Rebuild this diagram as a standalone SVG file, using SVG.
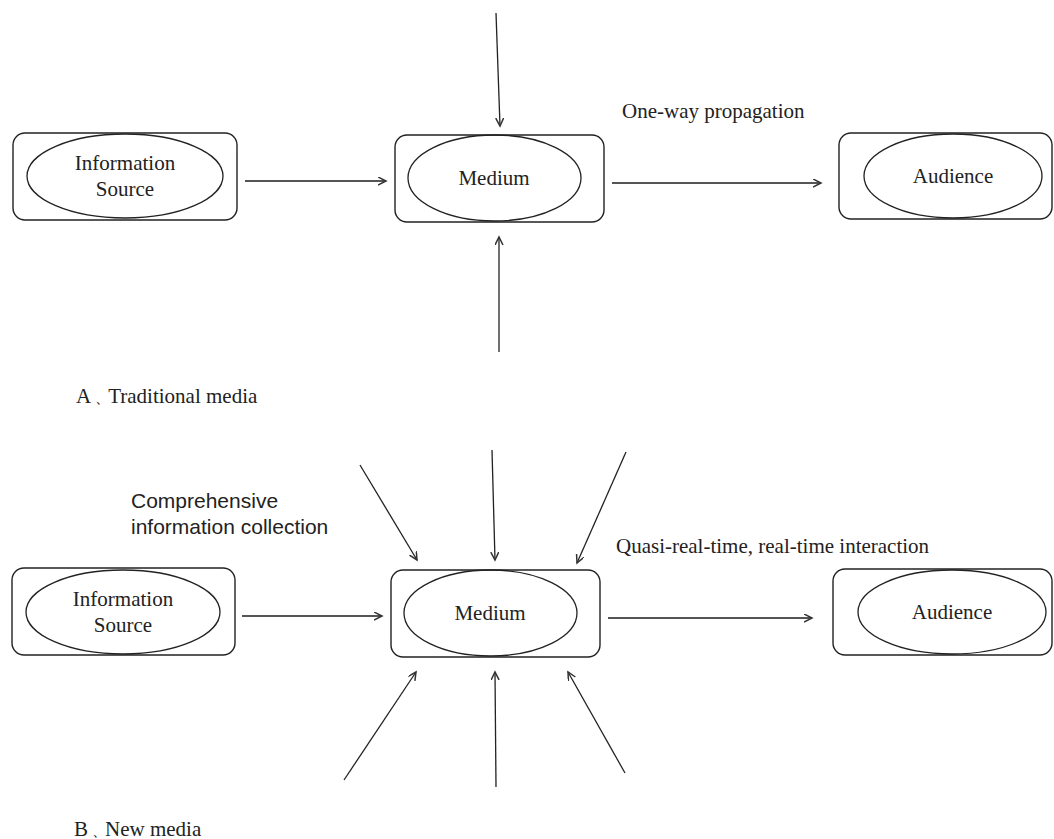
<svg xmlns="http://www.w3.org/2000/svg" width="1054" height="839" viewBox="0 0 1054 839">
<style>
.box{fill:none;stroke:#222;stroke-width:1.4}
.ell{fill:none;stroke:#222;stroke-width:1.3}
.t{font-family:"Liberation Serif",serif;font-size:21px;fill:#222}
.s{font-family:"Liberation Sans",sans-serif;font-size:21px;fill:#222}
.h{stroke:#555;stroke-width:2;fill:none}
.v{stroke:#222;stroke-width:1.3;fill:none}
</style>
<defs>
<marker id="ah" markerWidth="10" markerHeight="10" refX="8" refY="4" orient="auto" markerUnits="userSpaceOnUse">
<path d="M0,0 L8,4 L0,8" fill="none" stroke="#333" stroke-width="1.5"/>
</marker>
</defs>
<rect width="1054" height="839" fill="#fff"/>
<g id="src1"><rect class="box" x="13" y="133" width="224" height="87" rx="12"/><ellipse class="ell" cx="125" cy="176" rx="98" ry="42"/><text class="t" text-anchor="middle" x="125" y="170">Information</text><text class="t" text-anchor="middle" x="125" y="196">Source</text></g>
<g id="med1"><rect class="box" x="395" y="135" width="209" height="87" rx="12"/><ellipse class="ell" cx="494.5" cy="178" rx="86.5" ry="43"/><text class="t" text-anchor="middle" x="494" y="185">Medium</text></g>
<g id="aud1"><rect class="box" x="839" y="133" width="213" height="86" rx="12"/><ellipse class="ell" cx="953" cy="176" rx="89" ry="42"/><text class="t" text-anchor="middle" x="953" y="183">Audience</text></g>
<g id="src2"><rect class="box" x="12" y="568" width="223" height="87" rx="12"/><ellipse class="ell" cx="123" cy="612" rx="97" ry="42"/><text class="t" text-anchor="middle" x="123" y="606">Information</text><text class="t" text-anchor="middle" x="123" y="632">Source</text></g>
<g id="med2"><rect class="box" x="391" y="570" width="209" height="87" rx="12"/><ellipse class="ell" cx="490.5" cy="613" rx="86.5" ry="43"/><text class="t" text-anchor="middle" x="490" y="620">Medium</text></g>
<g id="aud2"><rect class="box" x="833" y="569" width="219" height="86" rx="12"/><ellipse class="ell" cx="952" cy="612" rx="94" ry="42"/><text class="t" text-anchor="middle" x="952" y="619">Audience</text></g>
<g id="connectors">
<line class="h" x1="245" y1="181" x2="386" y2="181" marker-end="url(#ah)"/>
<line class="h" x1="612" y1="183" x2="821" y2="183" marker-end="url(#ah)"/>
<line class="v" x1="496" y1="13" x2="500" y2="126" marker-end="url(#ah)"/>
<line class="v" x1="499" y1="352" x2="499" y2="237" marker-end="url(#ah)"/>
<line class="h" x1="242" y1="616" x2="382" y2="616" marker-end="url(#ah)"/>
<line class="h" x1="608" y1="618" x2="812" y2="618" marker-end="url(#ah)"/>
<line class="v" x1="360" y1="465" x2="417" y2="560" marker-end="url(#ah)"/>
<line class="v" x1="492" y1="450" x2="495" y2="560" marker-end="url(#ah)"/>
<line class="v" x1="626" y1="452" x2="577" y2="563" marker-end="url(#ah)"/>
<line class="v" x1="344" y1="780" x2="416" y2="672" marker-end="url(#ah)"/>
<line class="v" x1="496" y1="787" x2="495" y2="672" marker-end="url(#ah)"/>
<line class="v" x1="625" y1="773" x2="568" y2="672" marker-end="url(#ah)"/>
</g>
<text class="t" x="622" y="118">One-way propagation</text>
<text class="t" x="76" y="403">A<tspan font-size="15" dx="4">、</tspan><tspan dx="-2">Traditional media</tspan></text>
<text class="s" x="131" y="508">Comprehensive</text>
<text class="s" x="131" y="534">information collection</text>
<text class="t" x="616" y="553">Quasi-real-time, real-time interaction</text>
<text class="t" x="74" y="836">B<tspan font-size="15" dx="4">、</tspan><tspan dx="-2">New media</tspan></text>
</svg>
